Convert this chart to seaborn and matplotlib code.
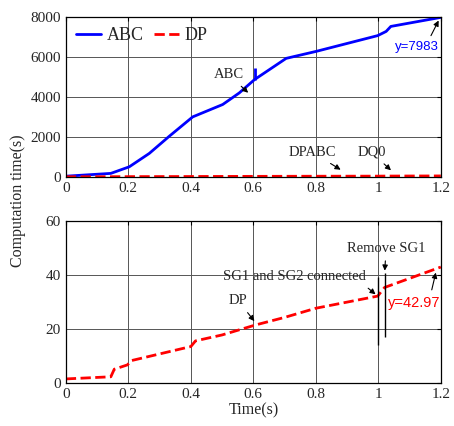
import matplotlib
matplotlib.use("Agg")
import matplotlib.pyplot as plt
import seaborn as sns
import pandas as pd
import numpy as np

# ---- data ----
abc_t = [0.0, 0.144, 0.203, 0.267, 0.331, 0.406, 0.502, 0.555, 0.604, 0.705, 0.801, 0.998, 1.025, 1.04, 1.2]
abc_v = [30, 170, 500, 1170, 2030, 3000, 3620, 4200, 4870, 5930, 6280, 7070, 7280, 7530, 7983]

dp_t = [0.0, 0.144, 0.155, 0.197, 0.21, 0.40, 0.415, 0.50, 0.607, 0.70, 0.80, 0.998, 1.02, 1.2]
dp_v = [1.5, 2.3, 5.1, 6.7, 8.3, 13.5, 15.6, 17.8, 21.5, 24.3, 27.7, 32.2, 35.4, 42.97]

abc_spike_t = 0.605
abc_spike_range = [4830, 5450]
event_t = [1.0, 1.02]
event_lo = [14.1, 16.9]
event_hi = [39.1, 40.6]

x_ticks = [0, 0.2, 0.4, 0.6, 0.8, 1.0, 1.2]
x_labels = ["0", "0.2", "0.4", "0.6", "0.8", "1", "1.2"]
top_yticks = [0, 2000, 4000, 6000, 8000]
bot_yticks = [0, 20, 40, 60]

df_abc = pd.DataFrame({"t": abc_t, "v": abc_v})
df_dp = pd.DataFrame({"t": dp_t, "v": dp_v})

sns.set_style("white")
plt.rcParams["font.family"] = ["Liberation Serif", "DejaVu Serif"]
plt.rcParams["mathtext.fontset"] = "stix"

fig = plt.figure(figsize=(4.54, 4.26), dpi=100)
ax1 = fig.add_axes([0.145, 0.585, 0.826, 0.375])
ax2 = fig.add_axes([0.145, 0.101, 0.826, 0.380])

blue = "#0000ff"
red = "#ff0000"

sns.lineplot(data=df_abc, x="t", y="v", ax=ax1, color=blue, lw=2, label="ABC")
sns.lineplot(data=df_dp, x="t", y="v", ax=ax1, color=red, lw=2, linestyle="--", label="DP")
ax1.vlines(abc_spike_t, *abc_spike_range, color=blue, lw=2)

sns.lineplot(data=df_dp, x="t", y="v", ax=ax2, color=red, lw=2, linestyle="--")
ax2.vlines(event_t, event_lo, event_hi, color="black", lw=1)

for ax, yt in ((ax1, top_yticks), (ax2, bot_yticks)):
    ax.set_xlim(0, 1.2)
    ax.set_ylim(yt[0], yt[-1])
    ax.set_xticks(x_ticks)
    ax.set_xticklabels(x_labels)
    ax.set_yticks(yt)
    ax.grid(True, color="#555555", lw=0.7)
    ax.tick_params(direction="in", top=True, right=True, labelsize=11, length=3, color="black")
    for s in ax.spines.values():
        s.set_color("black")
        s.set_linewidth(0.9)
    ax.set_xlabel("")
    ax.set_ylabel("")

leg = ax1.legend(loc="upper left", frameon=False, fontsize=13, handlelength=1.4,
                 ncol=2, columnspacing=0.6, borderaxespad=0.35, handletextpad=0.3,
                 borderpad=0.2)

arrow = dict(arrowstyle="-|>", color="black", lw=0.8, mutation_scale=8)
ax1.annotate("ABC", xy=(0.59, 4115), xytext=(0.521, 5115), ha="center", va="center",
             fontsize=10.5, arrowprops=arrow)
ax1.annotate("DPABC", xy=(0.887, 280), xytext=(0.789, 1230), ha="center", va="center",
             fontsize=10.5, arrowprops=arrow)
ax1.annotate("DQ0", xy=(1.047, 230), xytext=(0.978, 1230), ha="center", va="center",
             fontsize=10.5, arrowprops=arrow)
ax1.annotate("y=7983", xy=(1.197, 7950), xytext=(1.124, 6480), ha="center", va="center",
             fontsize=9.5, color=blue, family=["Liberation Sans", "DejaVu Sans"],
             arrowprops=dict(arrow, relpos=(0.75, 1.0)))

ax2.annotate("Remove SG1", xy=(1.02, 40.6), xytext=(1.025, 49.9), ha="center", va="center",
             fontsize=10.5, arrowprops=arrow)
ax2.annotate("SG1 and SG2 connected", xy=(0.998, 32.2), xytext=(0.733, 39.4), ha="center",
             va="center", fontsize=10.5, arrowprops=dict(arrow, relpos=(0.97, 0.0)))
ax2.annotate("DP", xy=(0.609, 22.1), xytext=(0.551, 30.5), ha="center", va="center",
             fontsize=10.5, arrowprops=arrow)
ax2.annotate("y=42.97", xy=(1.186, 41.9), xytext=(1.116, 29.7), ha="center", va="center",
             fontsize=10.5, color=red, family=["Liberation Sans", "DejaVu Sans"],
             arrowprops=dict(arrow, relpos=(0.8, 1.0)))

ax2.set_xlabel("Time(s)", fontsize=11.5, labelpad=1)
fig.text(0.04, 0.53, "Computation time(s)", rotation=90, ha="center", va="center", fontsize=11.5)

fig.savefig("out.png", dpi=100)
